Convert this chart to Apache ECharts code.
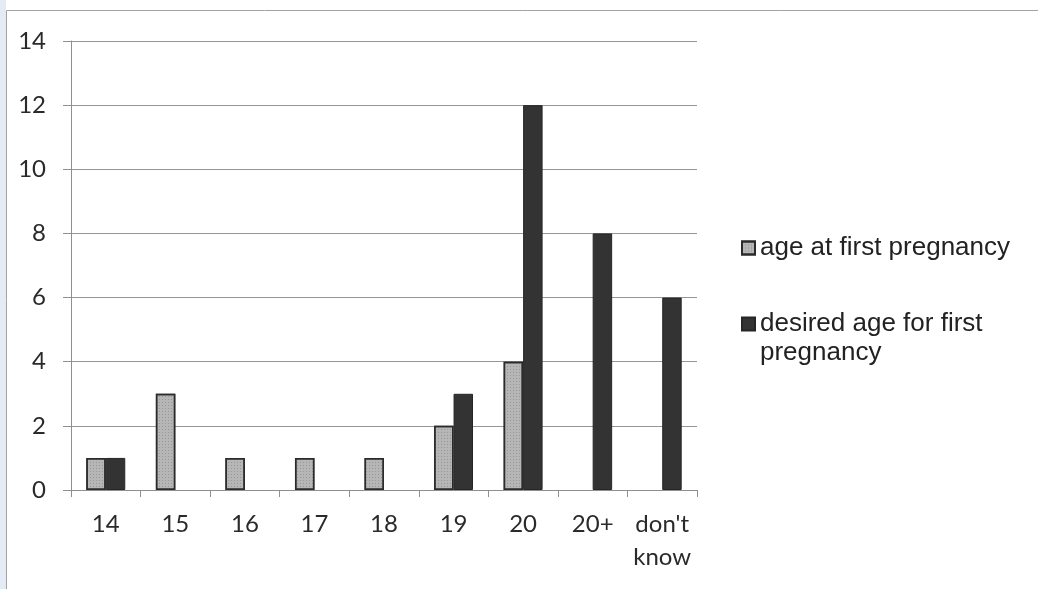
<!DOCTYPE html>
<html>
<head>
<meta charset="utf-8">
<title>Age at first pregnancy</title>
<script src="https://cdn.jsdelivr.net/npm/echarts@6/dist/echarts.min.js"></script>
<style>
  html, body { margin: 0; padding: 0; background: #ffffff; }
  #chart { width: 1038px; height: 589px; }
</style>
</head>
<body>
<div id="chart"></div>
<script>
// Age groups on the category axis
const categories = ['14', '15', '16', '17', '18', '19', '20', '20+', "don't\nknow"];

// Number of respondents in each age group
const ageAtFirstPregnancy = [1, 3, 1, 1, 1, 2, 4, 0, 0];
const desiredAgeForFirstPregnancy = [1, 0, 0, 0, 0, 3, 12, 8, 6];

const seriesNames = ['age at first pregnancy', 'desired age for first pregnancy'];

// Value axis ticks
const yMin = 0, yMax = 14, yStep = 2;

// Empty groups leave no bar at all
const asBars = arr => arr.map(v => (v === 0 ? null : v));

const chart = echarts.init(document.getElementById('chart'), null, { renderer: 'canvas' });

const axisFont = 'Lato, "Open Sans", sans-serif';
const legendFont = '"Liberation Sans", Arial, sans-serif';

chart.setOption({
  animation: false,
  backgroundColor: '#ffffff',
  graphic: [
    {
      // tinted margin left of the frame
      type: 'rect',
      silent: true,
      z: -10,
      shape: { x: 0, y: 0, width: 6, height: 589 },
      style: { fill: '#e4ebf4' }
    },
    {
      // outer chart frame
      type: 'rect',
      silent: true,
      shape: { x: 6.5, y: 10.5, width: 1200, height: 800 },
      style: { fill: 'none', stroke: '#a3a3a3', lineWidth: 1 }
    }
  ],
  grid: { left: 71, right: 341, top: 41, bottom: 99, containLabel: false },
  legend: {
    orient: 'vertical',
    left: 741,
    top: 233.5,
    padding: 0,
    itemGap: 18,
    itemWidth: 13,
    itemHeight: 13,
    icon: 'rect',
    formatter: function (name) {
      if (name === seriesNames[1]) {
        // blank first row keeps the marker level with the first text row
        return '{e| }\n{t|desired age for first}\n{t|pregnancy}';
      }
      return '{t|' + name + '}';
    },
    textStyle: {
      fontFamily: legendFont,
      fontSize: 26,
      color: '#222222',
      lineHeight: 29,
      rich: {
        t: { fontFamily: legendFont, fontSize: 26, color: '#222222', lineHeight: 29 },
        e: { fontFamily: legendFont, fontSize: 26, lineHeight: 29 }
      }
    },
    data: [seriesNames[0], seriesNames[1]]
  },
  xAxis: {
    type: 'category',
    data: categories,
    axisLine: { show: true, lineStyle: { color: '#8f8f8f', width: 1 } },
    axisTick: { show: true, length: 7, lineStyle: { color: '#8f8f8f' } },
    axisLabel: {
      interval: 0,
      fontFamily: axisFont,
      fontSize: 24,
      color: '#2a2a2a',
      margin: 18,
      lineHeight: 33
    },
    splitLine: { show: false }
  },
  yAxis: {
    type: 'value',
    min: yMin,
    max: yMax,
    interval: yStep,
    axisLine: { show: true, lineStyle: { color: '#8f8f8f', width: 1 } },
    axisTick: { show: true, length: 8, lineStyle: { color: '#8f8f8f' } },
    axisLabel: {
      fontFamily: axisFont,
      fontSize: 24,
      color: '#2a2a2a',
      margin: 25
    },
    splitLine: { show: true, lineStyle: { color: '#969696', width: 1 } }
  },
  series: [
    {
      name: seriesNames[0],
      type: 'bar',
      data: asBars(ageAtFirstPregnancy),
      barGap: '0%',
      barCategoryGap: '44%',
      itemStyle: {
        color: '#b6b6b6',
        borderColor: '#2b2b2b',
        borderWidth: 1.5,
        decal: {
          symbol: 'rect',
          symbolSize: 1,
          color: 'rgba(80,80,80,0.3)',
          dashArrayX: [1, 2],
          dashArrayY: [1, 2],
          rotation: 0
        }
      }
    },
    {
      name: seriesNames[1],
      type: 'bar',
      data: asBars(desiredAgeForFirstPregnancy),
      itemStyle: {
        color: '#333333',
        borderColor: '#262626',
        borderWidth: 1
      }
    }
  ]
});
</script>
</body>
</html>
